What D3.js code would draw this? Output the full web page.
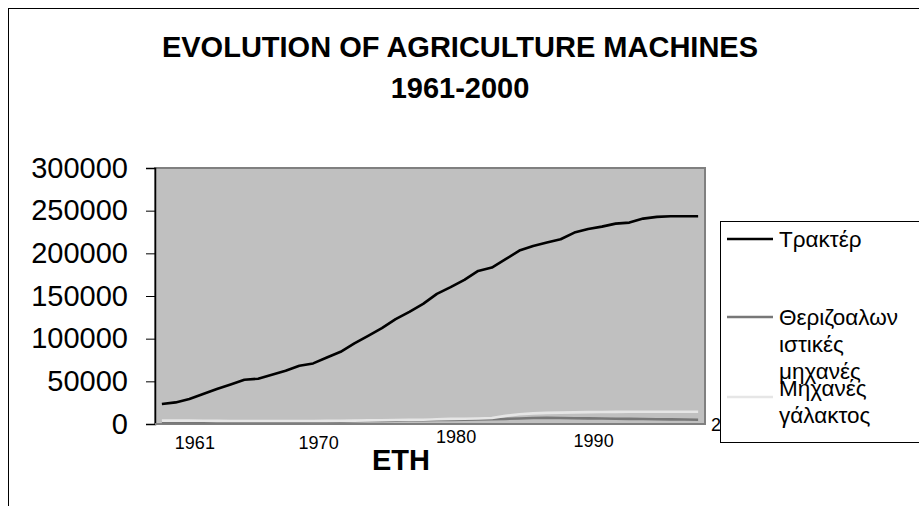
<!DOCTYPE html>
<html>
<head>
<meta charset="utf-8">
<script src="https://cdn.jsdelivr.net/npm/d3@7"></script>
<style>
	body { margin: 0; background: #fff; }
	svg { display: block; font-family: "Liberation Sans", Arial, sans-serif; }
</style>
</head>
<body>
<div id="chart"></div>
<script>
// data
const years = [1961, 1962, 1963, 1964, 1965, 1966, 1967, 1968, 1969, 1970,
	1971, 1972, 1973, 1974, 1975, 1976, 1977, 1978, 1979, 1980,
	1981, 1982, 1983, 1984, 1985, 1986, 1987, 1988, 1989, 1990,
	1991, 1992, 1993, 1994, 1995, 1996, 1997, 1998, 1999, 2000];

const tractors = [23400, 25300, 29300, 35100, 41000, 46400, 51900, 53000, 57700, 62400,
	68300, 71000, 78000, 84600, 94400, 103400, 112400, 122900, 131500, 140800,
	152500, 160400, 168900, 179400, 183300, 193100, 203200, 208700, 212600, 216500,
	224300, 228600, 231300, 234800, 236000, 240700, 242700, 243500, 243500, 243500];

const harvesters = [2000, 2000, 2100, 2100, 2200, 2200, 2300, 2300, 2400, 2400,
	2500, 2600, 2800, 3000, 3200, 3500, 3700, 4000, 4200, 4400,
	4600, 4800, 5000, 5300, 5600, 6000, 6500, 7000, 7200, 7000,
	6800, 6600, 6400, 6200, 6000, 5800, 5600, 5400, 5200, 5000];

const milkMachines = [4000, 4000, 3900, 3800, 3700, 3600, 3500, 3500, 3500, 3500,
	3500, 3600, 3700, 3800, 4000, 4200, 4400, 4600, 4800, 5000,
	5500, 6000, 6200, 6500, 7000, 9500, 11500, 12500, 13000, 13300,
	13600, 13900, 14100, 14200, 14300, 14400, 14400, 14400, 14400, 14400];

const seriesNames = [["Τρακτέρ"], ["Θεριζοαλων", "ιστικές", "μηχανές"], ["Μηχανές", "γάλακτος"]];
const yTicks = [0, 50000, 100000, 150000, 200000, 250000, 300000];
const xTickYears = [1961, 1970, 1980, 1990, 2000];
const titleLines = ["EVOLUTION OF AGRICULTURE MACHINES", "1961-2000"];
const xTitle = "ETH";

const W = 919, H = 506;
const plot = { left: 155, top: 168, right: 705, bottom: 424 };
const colors = ["#000000", "#777777", "#e6e6e6"];

const svg = d3.select("#chart")
	.append("svg")
	.attr("width", W)
	.attr("height", H);

// outer chart border (right and bottom fall outside the window)
svg.append("rect")
	.attr("x", 8.5).attr("y", 8.5)
	.attr("width", W + 20).attr("height", H + 20)
	.attr("fill", "#fff")
	.attr("stroke", "#000");

// title
svg.append("g").selectAll("text")
	.data(titleLines)
	.enter()
	.append("text")
	.attr("x", 460)
	.attr("y", (d, i) => 57 + i * 41)
	.attr("text-anchor", "middle")
	.attr("font-size", "29px")
	.attr("font-weight", "bold")
	.text(d => d);

const x = d3.scalePoint()
	.domain(years)
	.range([plot.left, plot.right])
	.padding(0.5);

const y = d3.scaleLinear()
	.domain([0, 300000])
	.range([plot.bottom, plot.top]);

// plot area
svg.append("rect")
	.attr("x", plot.left).attr("y", plot.top)
	.attr("width", plot.right - plot.left)
	.attr("height", plot.bottom - plot.top)
	.attr("fill", "#c0c0c0")
	.attr("stroke", "#808080")
	.attr("stroke-width", 2);

// y axis
const yAxis = svg.append("g")
	.attr("transform", `translate(${plot.left}, 0)`)
	.call(d3.axisLeft(y).tickValues(yTicks).tickSize(9).tickPadding(18).tickFormat(d3.format("d")));
yAxis.select(".domain").attr("stroke", "#000").attr("stroke-width", 1.5);
yAxis.selectAll("line").attr("stroke", "#000");
yAxis.selectAll("text")
	.attr("font-size", "29px")
	.attr("font-family", "'Liberation Sans', Arial, sans-serif")
	.attr("fill", "#000");

// x axis line
svg.append("line")
	.attr("x1", plot.left).attr("x2", plot.right)
	.attr("y1", plot.bottom).attr("y2", plot.bottom)
	.attr("stroke", "#808080")
	.attr("stroke-width", 2);

// lines
const line = d3.line()
	.x((d, i) => x(years[i]))
	.y(d => y(d))
	.curve(d3.curveLinear);

[tractors, harvesters, milkMachines].forEach((s, k) => {
	svg.append("path")
		.datum(s)
		.attr("fill", "none")
		.attr("stroke", colors[k])
		.attr("stroke-width", 2.6)
		.attr("stroke-linejoin", "round")
		.attr("d", line);
});

// category labels (Excel placed them shifted right of the points)
const labelShift = 33;
const labelDy = [0, 0, -6, -2, -18];
svg.append("g").selectAll("text")
	.data(xTickYears)
	.enter()
	.append("text")
	.attr("x", d => x(d) + labelShift)
	.attr("y", (d, i) => 449 + labelDy[i])
	.attr("text-anchor", "middle")
	.attr("font-size", "18px")
	.text(d => d);

svg.append("text")
	.attr("x", 401)
	.attr("y", 470)
	.attr("text-anchor", "middle")
	.attr("font-size", "29px")
	.attr("font-weight", "bold")
	.text(xTitle);

// legend
const legend = svg.append("g");
legend.append("rect")
	.attr("x", 720.5).attr("y", 221.5)
	.attr("width", 220).attr("height", 221)
	.attr("fill", "#fff")
	.attr("stroke", "#000");

const itemY = [239, 317, 397];
const textStart = [0, 0, -9];
seriesNames.forEach((lines, k) => {
	legend.append("line")
		.attr("x1", 727).attr("x2", 773)
		.attr("y1", itemY[k]).attr("y2", itemY[k])
		.attr("stroke", colors[k])
		.attr("stroke-width", 2.6);
	legend.append("g").selectAll("text")
		.data(lines)
		.enter()
		.append("text")
		.attr("x", 779)
		.attr("y", (d, i) => itemY[k] + textStart[k] + i * 27)
		.attr("dy", "0.35em")
		.attr("font-size", "22.5px")
		.text(d => d);
});
</script>
</body>
</html>
